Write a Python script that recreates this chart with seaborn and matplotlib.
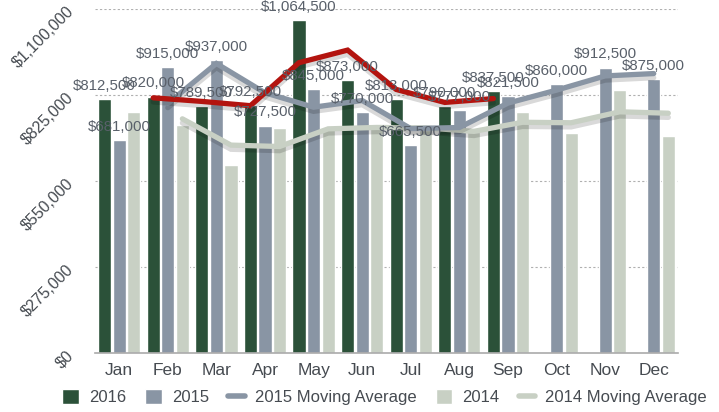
import numpy as np
import pandas as pd
import matplotlib
matplotlib.use("Agg")
import matplotlib.pyplot as plt
import matplotlib.patheffects as pe
from matplotlib.patches import Patch
from matplotlib.lines import Line2D
import seaborn as sns

# ==========================
# Dane
# ==========================
months = ["Jan", "Feb", "Mar", "Apr", "May", "Jun", "Jul", "Aug", "Sep", "Oct", "Nov", "Dec"]

sales_2016 = [812500, 820000, 789500, 792500, 1064500, 873000, 813000, 790000, 837500]
sales_2015 = [681000, 915000, 937000, 727500, 845000, 770000, 665500, 777000, 821500, 860000, 912500, 875000]
sales_2014 = [770000, 728000, 602000, 719000, 715000, 728000, 712000, 706000, 770000, 703000, 840000, 694000]

# srednie kroczace (od lutego)
ma_2016 = [816250, 804750, 791000, 928500, 968750, 843000, 801500, 813750]
ma_2015 = [798000, 926000, 832250, 786250, 807500, 717750, 721250, 799250, 840750, 886250, 893750]
ma_2014 = [749000, 665000, 660500, 717000, 721500, 720000, 709000, 738000, 736500, 771500, 767000]

y_ticks = [0, 275000, 550000, 825000, 1100000]

c2016 = "#2b5139"
c2015 = "#8995a4"
c2014 = "#c8d0c4"
c_red = "#b3140f"
text_c = "#464b51"
label_c = "#59606a"

# ==========================
# Tabela long-form dla seaborn
# ==========================
rows = []
for year, vals in [("2016", sales_2016), ("2015", sales_2015), ("2014", sales_2014)]:
    for m, v in zip(months, vals):
        rows.append({"month": m, "year": year, "value": v})
df = pd.DataFrame(rows)

sns.set_style("white")
plt.rcParams["font.family"] = ["Liberation Sans", "DejaVu Sans"]

fig = plt.figure(figsize=(7.19, 4.12), dpi=100)
ax = fig.add_axes([0.132, 0.143, 0.811, 0.835])

sns.barplot(data=df, x="month", y="value", hue="year", order=months,
            hue_order=["2016", "2015", "2014"], palette=[c2016, c2015, c2014],
            width=0.9, gap=0.1, errorbar=None, saturation=1, ax=ax, legend=False, zorder=2)

ax.set_ylim(0, 1100000)
ax.set_xlim(-0.5, 11.5)
ax.set_yticks(y_ticks)
ax.set_yticklabels([f"${v:,.0f}" for v in y_ticks], rotation=45, fontsize=11.5,
                   color=text_c, ha="right", va="center", rotation_mode="anchor")
ax.tick_params(axis="y", length=3, color="#999999", pad=14)
ax.tick_params(axis="x", length=0, labelsize=12.5, labelcolor=text_c, pad=7)
ax.set_xlabel("")
ax.set_ylabel("")
for s in ["top", "right", "left"]:
    ax.spines[s].set_visible(False)
ax.spines["bottom"].set_color("#aaaaaa")
ax.spines["bottom"].set_linewidth(1.2)

# linie siatki (kropkowane)
for t in y_ticks[1:]:
    ax.axhline(t, color="#b0b0b0", lw=0.8, ls=(0, (2, 2)), zorder=1)

# ==========================
# Srednie kroczace z cieniem
# ==========================
x = np.arange(len(months))
shadow = [pe.SimpleLineShadow(offset=(0, -3), shadow_color="#000000", alpha=0.15), pe.Normal()]

ax.plot(x[1:] + 0.3, ma_2014, color=c2014, lw=3.8, zorder=4, path_effects=shadow,
        solid_joinstyle="miter")
ax.plot(x[1:], ma_2015, color=c2015, lw=3.8, zorder=4, path_effects=shadow,
        solid_joinstyle="miter")
ax.plot(x[1:len(sales_2016)] - 0.3, ma_2016, color=c_red, lw=3.8, zorder=5, path_effects=shadow,
        solid_joinstyle="miter")

# ==========================
# Etykiety wartosci
# ==========================
for i, v in enumerate(sales_2016):
    ax.text(i - 0.3, v + 20000, f"${v:,.0f}", ha="center", va="bottom", fontsize=10.8,
            color=label_c, zorder=6, clip_on=False)
for i, v in enumerate(sales_2015):
    ax.text(i, v + 20000, f"${v:,.0f}", ha="center", va="bottom", fontsize=10.8,
            color=label_c, zorder=6, clip_on=False)

# ==========================
# Legenda
# ==========================
handles = [
    Patch(facecolor=c2016, label="2016"),
    Patch(facecolor=c2015, label="2015"),
    Line2D([0], [0], color=c2015, lw=4, label="2015 Moving Average"),
    Patch(facecolor=c2014, label="2014"),
    Line2D([0], [0], color=c2014, lw=4, label="2014 Moving Average"),
]
leg = fig.legend(handles=handles, loc="lower center", bbox_to_anchor=(0.535, -0.02), ncol=5,
                 frameon=False, fontsize=12, handlelength=1.0, handleheight=1.0,
                 handletextpad=0.6, columnspacing=1.15)
for t in leg.get_texts():
    t.set_color(text_c)

fig.savefig("out.png", dpi=100)
